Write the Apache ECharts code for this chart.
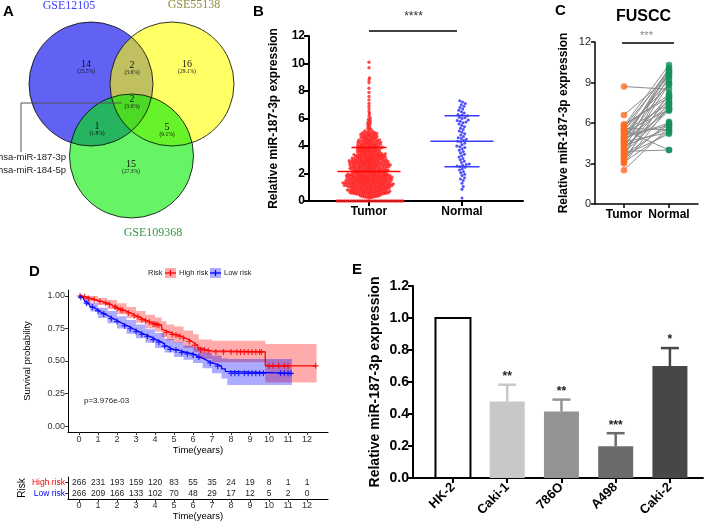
<!DOCTYPE html>
<html><head><meta charset="utf-8">
<script src="https://cdn.jsdelivr.net/npm/echarts@6/dist/echarts.min.js"></script>
<style>html,body{margin:0;padding:0;background:#fff}#c{width:708px;height:528px}</style>
</head><body><div id="c"></div><script>
// ---------------- DATA ----------------
// Panel A (Venn)
const vennSets = ['GSE12105', 'GSE55138', 'GSE109368'];
const vennRegions = ['A', 'B', 'C', 'AB', 'AC', 'BC', 'ABC'];
const vennCounts = [14, 16, 15, 2, 1, 5, 2];
const vennGenes = ['hsa-miR-187-3p', 'hsa-miR-184-5p'];

// Panel B
const groupsB = ['Tumor', 'Normal'];
const tumorB = [
0,0,0,0,0,0,0,0,0,0,0,0,0,0,0,0,0,0,0,0,0,0,0,0,0,0,0,0,0,0,
0.21,0.24,0.27,0.29,0.3,0.32,0.33,0.35,0.37,0.38,0.4,0.41,0.43,0.44,0.46,0.47,0.48,0.49,
0.5,0.51,0.52,0.53,0.54,0.55,0.56,0.57,0.58,0.59,0.6,0.61,0.62,0.63,0.64,0.65,0.66,0.67,0.68,0.69,
0.7,0.71,0.72,0.73,0.74,0.75,0.76,0.77,0.78,0.79,0.8,0.81,0.82,0.83,0.84,0.85,0.86,0.87,0.88,0.89,
0.9,0.91,0.92,0.93,0.94,0.95,0.96,0.97,0.98,0.99,0.53,0.57,0.62,0.66,0.71,0.75,0.8,0.84,0.89,0.94,
1.0,1.01,1.02,1.03,1.04,1.05,1.06,1.07,1.08,1.09,1.1,1.11,1.12,1.13,1.14,1.15,1.16,1.17,1.18,1.19,
1.2,1.21,1.22,1.23,1.24,1.25,1.26,1.27,1.28,1.29,1.3,1.31,1.32,1.33,1.34,1.35,1.36,1.37,1.38,1.39,
1.4,1.41,1.42,1.43,1.44,1.45,1.46,1.47,1.48,1.49,1.02,1.04,1.07,1.09,1.12,1.14,1.17,1.19,1.22,1.24,
1.27,1.29,1.32,1.34,1.37,1.39,1.42,1.44,1.46,1.48,1.05,1.25,
1.5,1.51,1.52,1.53,1.54,1.55,1.56,1.57,1.58,1.59,1.6,1.61,1.62,1.63,1.64,1.65,1.66,1.67,1.68,1.69,
1.7,1.71,1.72,1.73,1.74,1.75,1.76,1.77,1.78,1.79,1.8,1.81,1.82,1.83,1.84,1.85,1.86,1.87,1.88,1.89,
1.9,1.91,1.92,1.93,1.94,1.95,1.96,1.97,1.98,1.99,1.52,1.55,1.58,1.61,1.64,1.67,1.7,1.73,1.76,1.79,
1.82,1.85,1.88,1.91,1.94,1.97,1.6,1.8,
2.0,2.01,2.02,2.03,2.04,2.05,2.06,2.07,2.08,2.09,2.1,2.11,2.12,2.13,2.14,2.15,2.16,2.17,2.18,2.19,
2.2,2.21,2.22,2.23,2.24,2.25,2.26,2.27,2.28,2.29,2.3,2.31,2.32,2.33,2.34,2.35,2.36,2.37,2.38,2.39,
2.4,2.41,2.42,2.43,2.44,2.45,2.46,2.47,2.48,2.49,2.05,2.15,2.25,2.35,2.45,
2.5,2.51,2.52,2.53,2.54,2.55,2.56,2.57,2.58,2.59,2.6,2.61,2.62,2.63,2.64,2.65,2.66,2.67,2.68,2.69,
2.7,2.71,2.72,2.73,2.74,2.75,2.76,2.77,2.78,2.79,2.8,2.81,2.82,2.83,2.84,2.85,2.86,2.87,2.88,2.89,
2.9,2.91,2.92,2.93,2.94,2.95,2.96,2.97,2.98,2.99,2.52,2.57,2.62,2.67,2.72,2.77,2.82,2.87,2.92,2.97,
3.0,3.01,3.02,3.03,3.04,3.05,3.06,3.07,3.08,3.09,3.1,3.11,3.12,3.13,3.14,3.15,3.16,3.17,3.18,3.19,
3.2,3.21,3.22,3.23,3.24,3.25,3.26,3.27,3.28,3.29,3.3,3.31,3.32,3.33,3.34,3.35,3.36,3.37,3.38,3.39,
3.4,3.41,3.42,3.43,3.44,3.45,3.46,3.48,
3.5,3.51,3.53,3.54,3.55,3.57,3.58,3.59,3.61,3.62,3.63,3.65,3.66,3.67,3.69,3.7,3.71,3.73,3.74,3.75,
3.77,3.78,3.79,3.81,3.82,3.83,3.85,3.86,3.87,3.89,3.9,3.91,3.93,3.94,3.95,3.97,3.98,3.99,
4.0,4.02,4.03,4.05,4.06,4.08,4.09,4.11,4.12,4.14,4.15,4.17,4.18,4.2,4.21,4.23,4.24,4.26,4.27,4.29,
4.3,4.32,4.33,4.35,4.36,4.38,4.39,4.41,4.42,4.44,4.46,4.48,
4.5,4.52,4.54,4.56,4.58,4.6,4.62,4.64,4.66,4.68,4.7,4.72,4.74,4.76,4.78,4.8,4.82,4.84,4.86,4.88,
4.9,4.92,4.94,4.96,4.98,4.99,
5.02,5.06,5.1,5.15,5.2,5.28,5.35,5.45,5.55,5.62,5.7,5.78,5.86,5.95,
6.05,6.2,6.35,6.5,6.7,6.9,7.1,7.35,7.6,7.9,8.2,8.6,8.8,8.95,9.7,10.1
];
const normalB = [
0.22,0.85,1.05,1.3,1.5,1.6,1.7,1.85,1.95,2.05,2.15,2.25,2.35,2.45,2.5,2.55,2.6,2.65,2.7,2.8,
2.9,3.0,3.1,3.2,3.3,3.4,3.5,3.6,3.7,3.8,3.9,3.95,4.0,4.1,4.2,4.3,4.35,4.4,4.5,4.55,
4.6,4.7,4.8,4.9,5.0,5.1,5.2,5.3,5.4,5.5,5.6,5.7,5.75,5.8,5.85,5.9,6.0,6.05,6.1,6.2,
6.25,6.3,6.4,6.5,6.6,6.7,6.8,6.9,7.0,7.1,7.2,7.3
];
const meanB = [2.15, 4.35];
const sdUpperB = [3.9, 6.2];
const sdLowerB = [null, 2.5];
const sigB = '****';

// Panel C
const groupsC = ['Tumor', 'Normal'];
const tumorC = [8.7,6.6,5.9,5.8,5.7,5.6,5.5,5.5,5.4,5.3,5.2,5.1,5.0,4.9,4.8,4.7,4.6,4.5,4.4,4.3,
                4.2,4.1,4.0,3.9,3.8,3.7,3.6,3.5,3.4,3.3,3.2,3.1,3.0,2.5,4.9,5.4,4.6,3.6,5.8,4.2];
const normalC = [8.5,9.4,7.9,10.3,9.8,5.5,4.0,8.8,10.0,7.0,9.2,5.8,7.6,6.0,9.6,7.3,5.3,9.0,8.0,5.6,
                 7.1,9.9,7.8,4.0,6.9,8.9,5.9,9.5,7.5,6.1,8.2,5.4,7.2,5.7,9.7,7.4,10.1,5.2,8.1,7.0];
const sigC = '***';
const titleC = 'FUSCC';

// Panel D (Kaplan-Meier)
const highSteps = [[0,1],[0.15,0.995],[0.35,0.985],[0.5,0.98],[0.7,0.972],[0.85,0.965],[1.0,0.958],[1.2,0.95],
 [1.35,0.945],[1.5,0.935],[1.65,0.925],[1.8,0.915],[1.95,0.905],[2.1,0.895],[2.25,0.89],[2.4,0.88],[2.55,0.87],
 [2.7,0.86],[2.85,0.848],[3.0,0.84],[3.15,0.828],[3.3,0.818],[3.45,0.808],[3.6,0.8],[3.75,0.792],[3.9,0.785],
 [4.05,0.78],[4.2,0.775],[4.35,0.745],[4.45,0.73],[4.6,0.72],[4.8,0.705],[5.0,0.7],[5.2,0.69],[5.4,0.675],
 [5.6,0.665],[5.8,0.65],[5.95,0.635],[6.1,0.62],[6.25,0.6],[6.4,0.585],[6.7,0.578],[7.0,0.57],[9.8,0.463],[12.5,0.463]];
const lowSteps = [[0,1],[0.1,0.99],[0.2,0.975],[0.3,0.96],[0.4,0.945],[0.5,0.93],[0.6,0.915],[0.75,0.9],[0.9,0.885],
 [1.05,0.872],[1.2,0.862],[1.35,0.85],[1.5,0.838],[1.65,0.826],[1.8,0.815],[1.95,0.803],[2.1,0.792],[2.25,0.78],
 [2.4,0.77],[2.55,0.76],[2.7,0.748],[2.85,0.737],[3.0,0.726],[3.15,0.715],[3.3,0.705],[3.45,0.697],[3.6,0.688],
 [3.75,0.678],[3.9,0.665],[4.05,0.655],[4.2,0.645],[4.35,0.632],[4.5,0.615],[4.65,0.6],[4.8,0.59],[5.0,0.585],
 [5.2,0.575],[5.4,0.565],[5.7,0.555],[6.0,0.546],[6.2,0.53],[6.4,0.515],[6.6,0.5],[6.8,0.485],[7.0,0.472],
 [7.3,0.46],[7.5,0.44],[7.7,0.42],[7.8,0.405],[11.2,0.405]];
const highCI = [[0,1,1],[0.5,0.96,1.0],[1.0,0.93,0.985],[1.5,0.9,0.97],[2.0,0.86,0.945],[2.5,0.83,0.915],[3.0,0.795,0.885],
 [3.5,0.75,0.855],[4.0,0.725,0.835],[4.35,0.685,0.805],[4.6,0.66,0.78],[5.0,0.64,0.765],[5.5,0.6,0.735],[6.0,0.57,0.705],
 [6.3,0.515,0.665],[7.0,0.49,0.655],[9.8,0.335,0.63],[12.5,0.335,0.63]];
const lowCI = [[0,1,1],[0.3,0.93,0.99],[0.6,0.88,0.95],[1.0,0.83,0.91],[1.5,0.79,0.885],[2.0,0.75,0.845],[2.5,0.71,0.815],
 [3.0,0.675,0.78],[3.5,0.64,0.745],[4.0,0.6,0.715],[4.5,0.565,0.67],[5.0,0.53,0.645],[5.5,0.51,0.62],[6.0,0.485,0.605],
 [6.5,0.445,0.565],[7.0,0.405,0.54],[7.5,0.365,0.52],[7.8,0.315,0.515],[11.2,0.315,0.515]];
const highCensor = [0.05,0.3,0.5,0.8,1.1,1.4,1.6,1.9,2.0,2.2,2.3,2.6,2.9,3.1,3.3,3.5,3.7,3.9,4.0,4.1,4.2,4.6,4.9,5.1,
 5.3,5.5,5.8,6.1,6.4,6.6,6.8,7.2,7.6,8.0,8.3,8.5,8.7,8.9,9.1,9.3,9.5,9.6,10.0,10.2,10.5,10.8,11.0,12.45];
const lowCensor = [0.1,0.4,0.7,1.0,1.3,1.7,2.0,2.4,2.7,3.0,3.3,3.6,3.9,4.2,4.5,4.8,5.1,5.4,5.7,6.0,6.3,6.9,7.3,
 8.0,8.2,8.4,8.7,8.9,9.1,9.3,9.5,9.7,10.6,10.8,11.0,11.15];
const riskGroups = ['High risk', 'Low risk'];
const timeTicks = [0,1,2,3,4,5,6,7,8,9,10,11,12];
const survTicks = [0, 0.25, 0.5, 0.75, 1];
const atRiskHigh = [266,231,193,159,120,83,55,35,24,19,8,1,1];
const atRiskLow = [266,209,166,133,102,70,48,29,17,12,5,2,0];
const pText = 'p=3.976e-03';

// Panel E
const cellLines = ['HK-2', 'Caki-1', '786O', 'A498', 'Caki-2'];
const relExpr = [1.0, 0.478, 0.415, 0.198, 0.70];
const errUpper = [null, 0.583, 0.49, 0.28, 0.812];
const starsE = ['', '**', '**', '***', '*'];

// ---------------- LAYOUT / STYLE ----------------
const SANS = '"Liberation Sans", Arial, Helvetica, sans-serif';
const SERIF = '"Liberation Serif", "DejaVu Serif", serif';
const vennL = {cx: 131.5, cy: 84, d: 40.5, h: 72, r: 62};
const vennCenters = [[vennL.cx - vennL.d, vennL.cy], [vennL.cx + vennL.d, vennL.cy], [vennL.cx, vennL.cy + vennL.h]];
const vennFill = ['rgba(0,0,235,0.62)', 'rgba(255,255,0,0.6)', 'rgba(0,235,0,0.6)'];
const vennSetPos = [[69, 6], [194, 5], [153, 233]];
const vennSetColor = ['#3d3dff', '#8f8f3a', '#2f9d3f'];
const vennLabelPos = [[86, 64], [187, 64], [131, 164], [132, 65], [97, 126], [167, 127], [132, 99]];
const vennConnector = [[122, 103], [21, 103], [21, 152]];
const vennGenePos = [[-2, 157], [-2, 170]];

function swarm(values, center, pxPerY, pxPerX, d) {
  const sorted = values.slice().sort((a, b) => a - b);
  const placed = [], out = [];
  for (const v of sorted) {
    const y = v * pxPerY;
    let xoff = 0;
    for (let k = 0; k < 1200; k++) {
      const cand = (k % 2 ? 1 : -1) * Math.ceil(k / 2) * 0.25;
      let ok = true;
      for (let j = placed.length - 1; j >= 0; j--) {
        const dy = y - placed[j][1];
        if (dy >= d) break;
        const dx = cand - placed[j][0];
        if (dx * dx + dy * dy < d * d) { ok = false; break; }
      }
      if (ok) { xoff = cand; break; }
    }
    placed.push([xoff, y]);
    out.push([center + xoff / pxPerX, v]);
  }
  return out;
}
function survAt(steps, t) {
  let s = steps[0][1];
  for (const p of steps) { if (p[0] <= t) s = p[1]; else break; }
  return s;
}
function bandPoly(api, ci) {
  const up = [], lo = [];
  for (let i = 0; i < ci.length; i++) {
    const t = ci[i][0], tn = i + 1 < ci.length ? ci[i + 1][0] : t;
    up.push(api.coord([t, ci[i][2]]), api.coord([tn, ci[i][2]]));
    lo.push(api.coord([t, ci[i][1]]), api.coord([tn, ci[i][1]]));
  }
  return up.concat(lo.reverse());
}

const grids = [
  {left: 0, top: 0, width: 240, height: 240},          // A
  {left: 309, top: 36, width: 214, height: 165},       // B
  {left: 595, top: 42, width: 103, height: 162},       // C
  {left: 68, top: 290, width: 260, height: 142},       // D
  {left: 68, top: 477, width: 260, height: 22},        // D table
  {left: 413, top: 286, width: 290, height: 192}       // E
];
const bX = {min: 0.355, max: 2.656}, cX = {min: 0.356, max: 2.644};
const dX = {min: -0.58, max: 13.1}, eX = {min: -0.737, max: 4.61};

function boldAxisLabel(size) { return {color: '#000', fontWeight: 'bold', fontSize: size, fontFamily: SANS}; }

const xAxis = [
  {gridIndex: 0, type: 'value', min: 0, max: 240, show: false},
  {gridIndex: 1, type: 'value', min: bX.min, max: bX.max, splitLine: {show: false},
   axisLine: {show: true, onZero: false, lineStyle: {color: '#000', width: 2}},
   axisTick: {show: true, customValues: [1, 2], length: 5, lineStyle: {color: '#000', width: 2}},
   axisLabel: Object.assign({customValues: [1, 2], formatter: v => groupsB[Math.round(v) - 1], margin: 5}, boldAxisLabel(12))},
  {gridIndex: 2, type: 'value', min: cX.min, max: cX.max, splitLine: {show: false},
   axisLine: {show: true, onZero: false, lineStyle: {color: '#000', width: 1.5}},
   axisTick: {show: true, customValues: [1, 2], length: 4, lineStyle: {color: '#000', width: 1.5}},
   axisLabel: Object.assign({customValues: [1, 2], formatter: v => groupsC[Math.round(v) - 1], margin: 5}, boldAxisLabel(12))},
  {gridIndex: 3, type: 'value', min: dX.min, max: dX.max, splitLine: {show: false},
   axisLine: {show: true, onZero: false, lineStyle: {color: '#000', width: 1}},
   axisTick: {show: true, customValues: timeTicks, length: 3, lineStyle: {color: '#333'}},
   axisLabel: {customValues: timeTicks, fontSize: 9, color: '#333', fontFamily: SANS, margin: 3},
   name: 'Time(years)', nameLocation: 'middle', nameGap: 13, nameTextStyle: {fontSize: 9.5, color: '#000', fontFamily: SANS}},
  {gridIndex: 4, type: 'value', min: dX.min, max: dX.max, splitLine: {show: false},
   axisLine: {show: true, onZero: false, lineStyle: {color: '#000', width: 1}},
   axisTick: {show: true, customValues: timeTicks, length: 3, lineStyle: {color: '#333'}},
   axisLabel: {customValues: timeTicks, fontSize: 9, color: '#333', fontFamily: SANS, margin: 2},
   name: 'Time(years)', nameLocation: 'middle', nameGap: 12, nameTextStyle: {fontSize: 9.5, color: '#000', fontFamily: SANS}},
  {gridIndex: 5, type: 'value', min: eX.min, max: eX.max, splitLine: {show: false},
   axisLine: {show: true, onZero: false, lineStyle: {color: '#000', width: 2}},
   axisTick: {show: true, customValues: [0, 1, 2, 3, 4], length: 5, lineStyle: {color: '#000', width: 2}},
   axisLabel: Object.assign({customValues: [0, 1, 2, 3, 4], formatter: v => cellLines[Math.round(v)], rotate: 45, margin: 7}, boldAxisLabel(13))}
];
const yAxis = [
  {gridIndex: 0, type: 'value', min: 0, max: 240, inverse: true, show: false},
  {gridIndex: 1, type: 'value', min: 0, max: 12, interval: 2, splitLine: {show: false},
   axisLine: {show: true, onZero: false, lineStyle: {color: '#000', width: 2}},
   axisTick: {show: true, length: 5, lineStyle: {color: '#000', width: 2}},
   axisLabel: Object.assign({margin: 4}, boldAxisLabel(12)),
   name: 'Relative miR-187-3p expression', nameLocation: 'middle', nameGap: 29,
   nameTextStyle: {fontWeight: 'bold', fontSize: 12, color: '#000', fontFamily: SANS}},
  {gridIndex: 2, type: 'value', min: 0, max: 12, interval: 3, splitLine: {show: false},
   axisLine: {show: true, onZero: false, lineStyle: {color: '#000', width: 1.5}},
   axisTick: {show: true, length: 4, lineStyle: {color: '#000', width: 1.5}},
   axisLabel: {margin: 4, fontSize: 11, color: '#222', fontFamily: SANS},
   name: 'Relative miR-187-3p expression', nameLocation: 'middle', nameGap: 25,
   nameTextStyle: {fontWeight: 'bold', fontSize: 12, color: '#000', fontFamily: SANS}},
  {gridIndex: 3, type: 'value', min: -0.046, max: 1.046, splitLine: {show: false},
   axisLine: {show: true, onZero: false, lineStyle: {color: '#000', width: 1}},
   axisTick: {show: true, customValues: survTicks, length: 3, lineStyle: {color: '#333'}},
   axisLabel: {customValues: survTicks, formatter: v => v.toFixed(2), fontSize: 9, color: '#333', fontFamily: SANS, margin: 3},
   name: 'Survival probability', nameLocation: 'middle', nameGap: 36,
   nameTextStyle: {fontSize: 9.5, color: '#000', fontFamily: SANS}},
  {gridIndex: 4, type: 'category', data: ['Low risk', 'High risk'], splitLine: {show: false},
   axisLine: {show: true, onZero: false, lineStyle: {color: '#000', width: 1}},
   axisTick: {show: true, alignWithLabel: true, length: 3, lineStyle: {color: '#333'}},
   axisLabel: {interval: 0, fontSize: 8.5, fontFamily: SANS, margin: 3, color: v => v === 'High risk' ? '#ff0000' : '#0000ff'},
   name: 'Risk', nameLocation: 'middle', nameGap: 41, nameTextStyle: {fontSize: 10, color: '#000', fontFamily: SANS}},
  {gridIndex: 5, type: 'value', min: 0, max: 1.2, interval: 0.2, splitLine: {show: false},
   axisLine: {show: true, onZero: false, lineStyle: {color: '#000', width: 2}},
   axisTick: {show: true, length: 5, lineStyle: {color: '#000', width: 2}},
   axisLabel: Object.assign({margin: 4, formatter: v => v.toFixed(1)}, boldAxisLabel(14)),
   name: 'Relative miR-187-3p expression', nameLocation: 'middle', nameGap: 31,
   nameTextStyle: {fontWeight: 'bold', fontSize: 14, color: '#000', fontFamily: SANS}}
];

const series = [];
// ---- A: Venn
series.push({type: 'custom', xAxisIndex: 0, yAxisIndex: 0, silent: true, clip: false, z: 1,
  data: vennSets.map((s, i) => ({value: [i, 0]})),
  renderItem: (p, api) => {
    const i = api.value(0); const c = api.coord(vennCenters[i]); const r = api.size([vennL.r, 0])[0];
    return {type: 'circle', shape: {cx: c[0], cy: c[1], r: r}, style: {fill: vennFill[i]}};
  }});
series.push({type: 'custom', xAxisIndex: 0, yAxisIndex: 0, silent: true, clip: false, z: 2,
  data: vennSets.map((s, i) => ({value: [i, 0]})),
  renderItem: (p, api) => {
    const i = api.value(0); const c = api.coord(vennCenters[i]); const r = api.size([vennL.r, 0])[0];
    const t = api.coord(vennSetPos[i]);
    return {type: 'group', children: [
      {type: 'circle', shape: {cx: c[0], cy: c[1], r: r}, style: {fill: 'none', stroke: '#000', lineWidth: 0.8}},
      {type: 'text', x: t[0], y: t[1], style: {text: vennSets[i], font: '12px ' + SERIF, fill: vennSetColor[i], align: 'center', verticalAlign: 'middle'}}
    ]};
  }});
const vennTotal = vennCounts.reduce((a, b) => a + b, 0);
series.push({type: 'custom', xAxisIndex: 0, yAxisIndex: 0, silent: true, clip: false, z: 3,
  data: vennRegions.map((r, i) => ({value: [i, 0]})),
  renderItem: (p, api) => {
    const i = api.value(0); const c = api.coord(vennLabelPos[i]);
    const pct = (vennCounts[i] / vennTotal * 100).toFixed(1) + '%';
    return {type: 'group', children: [
      {type: 'text', x: c[0], y: c[1], style: {text: String(vennCounts[i]), font: '10px ' + SERIF, fill: '#111', align: 'center', verticalAlign: 'middle'}},
      {type: 'text', x: c[0], y: c[1] + 8, style: {text: '(' + pct + ')', font: '5.5px ' + SERIF, fill: '#111', align: 'center', verticalAlign: 'middle'}}
    ]};
  }});
series.push({type: 'custom', xAxisIndex: 0, yAxisIndex: 0, silent: true, clip: false, z: 4,
  data: [{value: [0, 0]}],
  renderItem: (p, api) => {
    const pts = vennConnector.map(q => api.coord(q));
    const kids = [{type: 'polyline', shape: {points: pts}, style: {stroke: '#555', lineWidth: 1, fill: 'none'}}];
    vennGenes.forEach((g, k) => {
      const c = api.coord(vennGenePos[k]);
      kids.push({type: 'text', x: c[0], y: c[1], style: {text: g, font: '9.5px ' + SANS, fill: '#222', align: 'left', verticalAlign: 'middle'}});
    });
    return {type: 'group', children: kids};
  }});

// ---- B
const bPxY = 165 / 12, bPxX = 214 / (bX.max - bX.min);
series.push({type: 'scatter', xAxisIndex: 1, yAxisIndex: 1, symbolSize: 3.3, silent: true, z: 3,
  itemStyle: {color: '#ff1c1c'}, data: swarm(tumorB, 1, bPxY, bPxX, 2.1)});
series.push({type: 'scatter', xAxisIndex: 1, yAxisIndex: 1, symbolSize: 3, silent: true, z: 3,
  itemStyle: {color: '#2424ff'}, data: swarm(normalB, 2, bPxY, bPxX, 3.0)});
const bLineColor = ['#ff0000', '#3b3bff'];
series.push({type: 'custom', xAxisIndex: 1, yAxisIndex: 1, silent: true, clip: false, z: 4,
  data: groupsB.map((g, i) => ({value: [i + 1, meanB[i]]})),
  renderItem: (p, api) => {
    const i = p.dataIndex; const kids = [];
    const seg = (v, hw, w) => { const c = api.coord([i + 1, v]);
      kids.push({type: 'line', shape: {x1: c[0] - hw, y1: c[1], x2: c[0] + hw, y2: c[1]}, style: {stroke: bLineColor[i], lineWidth: w}}); };
    seg(meanB[i], 31.5, 1.5);
    if (sdUpperB[i] != null) seg(sdUpperB[i], 17.5, 1.5);
    if (sdLowerB[i] != null) seg(sdLowerB[i], 17.5, 1.5);
    return {type: 'group', children: kids};
  }});
series.push({type: 'custom', xAxisIndex: 1, yAxisIndex: 1, silent: true, clip: false, z: 4,
  data: [{value: [1, 12]}],
  renderItem: (p, api) => {
    const a = api.coord([1, 12]), b = api.coord([2, 12]);
    const y = a[1] - 5;
    return {type: 'group', children: [
      {type: 'line', shape: {x1: a[0], y1: y, x2: b[0] - 5, y2: y}, style: {stroke: '#000', lineWidth: 1.5}},
      {type: 'text', x: (a[0] + b[0]) / 2 - 2, y: y - 20, style: {text: sigB, font: '12px ' + SANS, fill: '#333', align: 'center', verticalAlign: 'top'}}
    ]};
  }});

// ---- C
series.push({type: 'custom', xAxisIndex: 2, yAxisIndex: 2, silent: true, z: 2,
  data: tumorC.map((v, i) => ({value: [1, v, normalC[i]]})),
  renderItem: (p, api) => {
    const a = api.coord([1, api.value(1)]), b = api.coord([2, api.value(2)]);
    return {type: 'line', shape: {x1: a[0], y1: a[1], x2: b[0], y2: b[1]}, style: {stroke: '#8c8c8c', lineWidth: 1}};
  }});
series.push({type: 'scatter', xAxisIndex: 2, yAxisIndex: 2, symbolSize: 6.5, silent: true, z: 3,
  itemStyle: {color: '#ff6a24'}, data: tumorC.map(v => [1, v])});
series.push({type: 'scatter', xAxisIndex: 2, yAxisIndex: 2, symbolSize: 6.5, silent: true, z: 3,
  itemStyle: {color: '#17905f'}, data: normalC.map(v => [2, v])});
series.push({type: 'custom', xAxisIndex: 2, yAxisIndex: 2, silent: true, clip: false, z: 4,
  data: [{value: [1, 12]}],
  renderItem: (p, api) => {
    const a = api.coord([1, 12]), b = api.coord([2, 12]);
    const y = a[1] + 1;
    const t = api.coord([1.5, 12]);
    return {type: 'group', children: [
      {type: 'line', shape: {x1: a[0] - 2, y1: y, x2: b[0] + 5, y2: y}, style: {stroke: '#000', lineWidth: 1.5}},
      {type: 'text', x: t[0], y: y - 13, style: {text: sigC, font: '11px ' + SANS, fill: '#888', align: 'center', verticalAlign: 'top'}},
      {type: 'text', x: t[0] - 3, y: 17, style: {text: titleC, font: 'bold 16px ' + SANS, fill: '#000', align: 'center', verticalAlign: 'middle'}}
    ]};
  }});

// ---- D
const dColors = {high: '#ff0000', low: '#0000ff'};
[[highCI, 'rgba(255,0,0,0.33)'], [lowCI, 'rgba(0,0,255,0.33)']].forEach(([ci, col]) => {
  series.push({type: 'custom', xAxisIndex: 3, yAxisIndex: 3, silent: true, z: 1, data: [{value: [0, 1]}],
    renderItem: (p, api) => ({type: 'polygon', shape: {points: bandPoly(api, ci)}, style: {fill: col}})});
});
series.push({type: 'line', xAxisIndex: 3, yAxisIndex: 3, step: 'end', showSymbol: false, silent: true, z: 3,
  lineStyle: {color: dColors.high, width: 1.3}, data: highSteps});
series.push({type: 'line', xAxisIndex: 3, yAxisIndex: 3, step: 'end', showSymbol: false, silent: true, z: 3,
  lineStyle: {color: dColors.low, width: 1.3}, data: lowSteps});
const plusPath = 'path://M4,0h2v4h4v2h-4v4h-2v-4h-4v-2h4z';
series.push({type: 'scatter', xAxisIndex: 3, yAxisIndex: 3, symbol: plusPath, symbolSize: 6, silent: true, z: 4,
  itemStyle: {color: dColors.high}, data: highCensor.map(t => [t, survAt(highSteps, t)])});
series.push({type: 'scatter', xAxisIndex: 3, yAxisIndex: 3, symbol: plusPath, symbolSize: 6, silent: true, z: 4,
  itemStyle: {color: dColors.low}, data: lowCensor.map(t => [t, survAt(lowSteps, t)])});
// risk table
const tableData = [];
timeTicks.forEach((t, i) => { tableData.push([t, 1, atRiskHigh[i]]); tableData.push([t, 0, atRiskLow[i]]); });
series.push({type: 'custom', xAxisIndex: 4, yAxisIndex: 4, silent: true, clip: false, data: tableData,
  renderItem: (p, api) => {
    const c = api.coord([api.value(0), api.value(1)]);
    return {type: 'text', x: c[0], y: c[1], style: {text: String(api.value(2)), font: '8.5px ' + SANS, fill: '#222', align: 'center', verticalAlign: 'middle'}};
  }});

// ---- E
const eColors = ['#ffffff', '#c8c8c8', '#939393', '#6b6b6b', '#474747'];
series.push({type: 'custom', xAxisIndex: 5, yAxisIndex: 5, silent: true, clip: false,
  data: cellLines.map((n, i) => ({value: [i, relExpr[i]]})),
  renderItem: (p, api) => {
    const i = p.dataIndex;
    const top = api.coord([i, relExpr[i]]), base = api.coord([i, 0]);
    const hw = 17.5; const kids = [];
    if (errUpper[i] != null) {
      const e = api.coord([i, errUpper[i]]);
      kids.push({type: 'line', shape: {x1: top[0], y1: top[1], x2: e[0], y2: e[1]}, style: {stroke: eColors[i], lineWidth: 2.5}});
      kids.push({type: 'line', shape: {x1: e[0] - 9, y1: e[1], x2: e[0] + 9, y2: e[1]}, style: {stroke: eColors[i], lineWidth: 2.5}});
      kids.push({type: 'text', x: e[0], y: e[1] - 2, style: {text: starsE[i], font: 'bold 12px ' + SANS, fill: '#222', align: 'center', verticalAlign: 'bottom'}});
    }
    kids.push({type: 'rect', shape: {x: top[0] - hw, y: top[1], width: hw * 2, height: base[1] - top[1]},
      style: {fill: eColors[i], stroke: i === 0 ? '#000' : null, lineWidth: 2}});
    return {type: 'group', children: kids};
  }});

// ---- graphic (panel letters, D legend & p value)
const letter = (t, x, y) => ({type: 'text', x: x, y: y, style: {text: t, font: 'bold 15px ' + SANS, fill: '#000'}});
const legY = 273;
const legFont = '7.5px ' + SANS;
const graphic = [
  letter('A', 3, 4), letter('B', 253, 4), letter('C', 555, 3), letter('D', 29, 264), letter('E', 352, 262),
  {type: 'text', x: 148, y: legY, style: {text: 'Risk', font: legFont, fill: '#222', verticalAlign: 'middle'}},
  {type: 'rect', shape: {x: 165, y: legY - 5, width: 11, height: 10}, style: {fill: 'rgba(255,0,0,0.33)'}},
  {type: 'line', shape: {x1: 165, y1: legY, x2: 176, y2: legY}, style: {stroke: '#ff0000', lineWidth: 1.3}},
  {type: 'line', shape: {x1: 170.5, y1: legY - 3, x2: 170.5, y2: legY + 3}, style: {stroke: '#ff0000', lineWidth: 1.3}},
  {type: 'text', x: 179, y: legY, style: {text: riskGroups[0], font: legFont, fill: '#222', verticalAlign: 'middle'}},
  {type: 'rect', shape: {x: 210, y: legY - 5, width: 11, height: 10}, style: {fill: 'rgba(0,0,255,0.33)'}},
  {type: 'line', shape: {x1: 210, y1: legY, x2: 221, y2: legY}, style: {stroke: '#0000ff', lineWidth: 1.3}},
  {type: 'line', shape: {x1: 215.5, y1: legY - 3, x2: 215.5, y2: legY + 3}, style: {stroke: '#0000ff', lineWidth: 1.3}},
  {type: 'text', x: 224, y: legY, style: {text: riskGroups[1], font: legFont, fill: '#222', verticalAlign: 'middle'}},
  {type: 'text', x: 84, y: 401, style: {text: pText, font: '8px ' + SANS, fill: '#222', verticalAlign: 'middle'}}
];

const chart = echarts.init(document.getElementById('c'), null, {width: 708, height: 528});
chart.setOption({
  animation: false, backgroundColor: '#fff',
  textStyle: {fontFamily: SANS},
  grid: grids, xAxis: xAxis, yAxis: yAxis, series: series, graphic: graphic
});
</script></body></html>
